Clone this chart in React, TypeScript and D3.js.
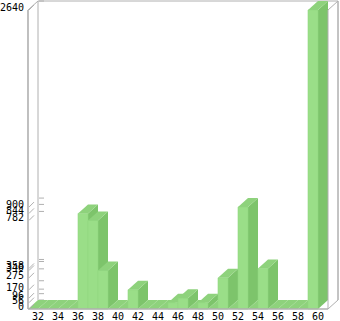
import React from "react";
import * as d3 from "d3";

const categories = [32, 33, 34, 35, 36, 37, 38, 39, 40, 41, 42, 43, 44, 45, 46, 47, 48, 49, 50, 51, 52, 53, 54, 55, 56, 57, 58, 59, 60];
const values = [0, 0, 0, 0, 0, 844, 782, 340, 0, 0, 170, 0, 0, 0, 56, 96, 0, 56, 0, 275, 0, 900, 0, 358, 0, 0, 0, 0, 2640];
const yTicks = [0, 56, 96, 170, 275, 340, 358, 782, 844, 900, 2640];
const xLabels = [32, 34, 36, 38, 40, 42, 44, 46, 48, 50, 52, 54, 56, 58, 60];

const W = 340;
const H = 321;
const DX = 10;
const DY = -9;
const FRONT = "#9ade88";
const TOP = "#8ed27c";
const SIDE = "#7dc46b";
const FRAME = "#b0b0b0";
const FONT = "'DejaVu Sans Mono', monospace";

export default function App() {
  const x = d3.scaleBand<number>().domain(categories).range([28, 318]).padding(0);
  const y = d3.scaleLinear().domain([0, 2640]).range([309, 10]);
  const bw = x.bandwidth();
  const y0 = y(0);
  const left = 28;
  const right = 328;
  const top = y(2640);

  const bars = categories.map((c, i) => {
    const x0 = x(c)!;
    const yv = y(values[i]);
    const front = `M${x0},${yv}H${x0 + bw}V${y0}H${x0}Z`;
    const topFace = `M${x0},${yv}L${x0 + bw},${yv}L${x0 + bw + DX},${yv + DY}L${x0 + DX},${yv + DY}Z`;
    const side = `M${x0 + bw},${yv}L${x0 + bw + DX},${yv + DY}L${x0 + bw + DX},${y0 + DY}L${x0 + bw},${y0}Z`;
    return (
      <g key={c}>
        <path d={side} fill={SIDE} />
        <path d={topFace} fill={TOP} />
        {values[i] > 0 && <path d={front} fill={FRONT} stroke="#92d682" strokeWidth={0.6} />}
      </g>
    );
  });

  return (
    <svg width={W} height={H} style={{ position: "absolute", left: 0, top: 0, background: "#fff" }}>
      {/* back wall */}
      <path
        d={`M${left + DX},${y0 + DY}V${top + DY}H${right + DX}V${y0 + DY}`}
        fill="none"
        stroke={FRAME}
        strokeWidth={1}
      />
      {/* back wall ticks */}
      {yTicks.map((t) => (
        <line key={"bt" + t} x1={left + DX + 1} x2={left + DX + 6} y1={y(t) + DY} y2={y(t) + DY} stroke={FRAME} />
      ))}
      {/* left side diagonals */}
      <line x1={left} y1={top} x2={left + DX} y2={top + DY} stroke={FRAME} />
      <line x1={right} y1={top} x2={right + DX} y2={top + DY} stroke={FRAME} />
      {bars}
      {/* front frame */}
      <line x1={left} y1={top} x2={left} y2={y0} stroke={FRAME} strokeWidth={1.6} />
      <line x1={right} y1={top} x2={right} y2={y0} stroke={FRAME} />
      <line x1={left} y1={y0} x2={right} y2={y0} stroke={FRAME} strokeWidth={1.4} />
      <line x1={right} y1={y0} x2={right + DX} y2={y0 + DY} stroke={FRAME} />
      <line x1={right + DX} y1={y0 + DY} x2={right + DX} y2={top + DY} stroke={FRAME} />
      {/* hatches */}
      {yTicks.map((t) => (
        <line key={"h" + t} x1={left + 1} y1={y(t)} x2={left + 6} y2={y(t) - 5} stroke={FRAME} />
      ))}
      {/* y labels */}
      {yTicks.map((t) => (
        <text
          key={"yl" + t}
          x={24}
          y={y(t) - 2}
          textAnchor="end"
          dominantBaseline="middle"
          fontFamily={FONT}
          fontSize={10}
          fill="#000"
        >
          {t}
        </text>
      ))}
      {/* x labels */}
      {xLabels.map((c) => (
        <text
          key={"xl" + c}
          x={x(c)! + bw}
          y={317}
          textAnchor="middle"
          dominantBaseline="middle"
          fontFamily={FONT}
          fontSize={10}
          fill="#000"
        >
          {c}
        </text>
      ))}
    </svg>
  );
}
